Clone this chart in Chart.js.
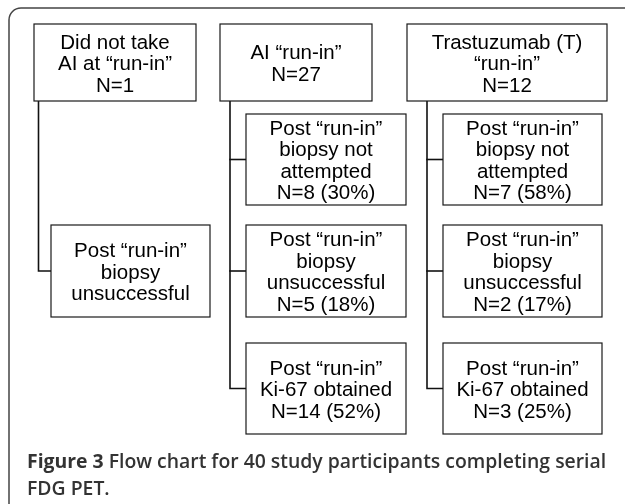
<!DOCTYPE html>
<html>
<head>
<meta charset="utf-8">
<script src="https://cdn.jsdelivr.net/npm/chart.js@4"></script>
<style>
  html, body { margin: 0; background: #fff; }
  #wrap { width: 625px; height: 504px; position: relative; }
</style>
</head>
<body>
<div id="wrap"><canvas id="flow"></canvas></div>
<script>
// Datos del diagrama: brazos del "run-in" y resultado de la biopsia posterior.
var armLines = [
    ["Did not take", "AI at \u201crun-in\u201d"],
    ["AI \u201crun-in\u201d"],
    ["Trastuzumab (T)", "\u201crun-in\u201d"]
];
var armN = [1, 27, 12];

var outcomeLines = [
    ["Post \u201crun-in\u201d", "biopsy not", "attempted"],
    ["Post \u201crun-in\u201d", "biopsy", "unsuccessful"],
    ["Post \u201crun-in\u201d", "Ki-67 obtained"]
];
// Por brazo: qué cajas de resultado aparecen, recuento y porcentaje (null = sin cifra).
var outcomeShown = [[false, true, false], [true, true, true], [true, true, true]];
var outcomeN = [[null, null, null], [8, 5, 14], [7, 2, 3]];
var outcomePct = [[null, null, null], [30, 18, 52], [58, 17, 25]];

var captionBold = "Figure 3";
var captionLines = [" Flow chart for 40 study participants completing serial", "FDG PET."];

// Maquetación en unidades de las escalas (0..625 x 0..504).
var HEAD_Y = [24, 101];
var HEAD_X = [[34, 196], [220, 372], [407, 607]];
var CHILD_X = [[51, 210], [246, 406], [443, 602]];
var ROWS_Y = [[114, 205], [225, 317], [343, 434]];
var SPINE_X = [38.5, 230, 427];

var BOX_FONT = "20.5px 'Liberation Sans', Arial, sans-serif";
var LINE_H = 21.5;
var CAP_FONT_PX = 19.4;

function mid(r) { return (r[0] + r[1]) / 2; }

// Conectores: una línea vertical por brazo y un tramo horizontal a cada caja hija.
var datasets = [];
armLines.forEach(function (_, a) {
    var rows = [];
    outcomeShown[a].forEach(function (s, r) { if (s) rows.push(r); });
    if (!rows.length) return;
    var last = rows[rows.length - 1];
    datasets.push({
        data: [
            { x: SPINE_X[a], y: HEAD_Y[1] },
            { x: SPINE_X[a], y: mid(ROWS_Y[last]) },
            { x: CHILD_X[a][0], y: mid(ROWS_Y[last]) }
        ]
    });
    rows.slice(0, -1).forEach(function (r) {
        datasets.push({
            data: [
                { x: SPINE_X[a], y: mid(ROWS_Y[r]) },
                { x: CHILD_X[a][0], y: mid(ROWS_Y[r]) }
            ]
        });
    });
});
datasets.forEach(function (d) {
    d.showLine = true;
    d.borderColor = "#111";
    d.borderWidth = 1.6;
    d.pointRadius = 0;
    d.tension = 0;
    d.borderCapStyle = "square";
    d.borderJoinStyle = "miter";
});

function boxText(lines, n, pct) {
    var out = lines.slice();
    if (n !== null && n !== undefined) out.push("N=" + n + (pct !== null && pct !== undefined ? " (" + pct + "%)" : ""));
    return out;
}

function drawBox(ctx, sx, sy, xr, yr, lines) {
    var x0 = sx.getPixelForValue(xr[0]), x1 = sx.getPixelForValue(xr[1]);
    var y0 = sy.getPixelForValue(yr[0]), y1 = sy.getPixelForValue(yr[1]);
    ctx.fillStyle = "#fff";
    ctx.fillRect(x0, y0, x1 - x0, y1 - y0);
    ctx.strokeStyle = "#1a1a1a";
    ctx.lineWidth = 1.2;
    ctx.strokeRect(x0, y0, x1 - x0, y1 - y0);
    ctx.fillStyle = "#000";
    ctx.font = BOX_FONT;
    ctx.textAlign = "center";
    ctx.textBaseline = "middle";
    var cx = (x0 + x1) / 2, cy = (y0 + y1) / 2;
    var top = cy - (lines.length - 1) * LINE_H / 2;
    lines.forEach(function (t, i) { ctx.fillText(t, cx, top + i * LINE_H + 2); });
}

var flowPlugin = {
    id: "flowBoxes",
    beforeDatasetsDraw: function (chart) {
        var ctx = chart.ctx, sx = chart.scales.x, sy = chart.scales.y;
        // marco redondeado que sale por la derecha y por abajo
        ctx.save();
        ctx.strokeStyle = "#444";
        ctx.lineWidth = 1.5;
        ctx.beginPath();
        ctx.roundRect(sx.getPixelForValue(9), sy.getPixelForValue(8), 640, 520, 12);
        ctx.stroke();
        ctx.restore();
    },
    afterDatasetsDraw: function (chart) {
        var ctx = chart.ctx, sx = chart.scales.x, sy = chart.scales.y;
        ctx.save();
        armLines.forEach(function (lines, a) {
            drawBox(ctx, sx, sy, HEAD_X[a], HEAD_Y, boxText(lines, armN[a], null));
            outcomeLines.forEach(function (ol, r) {
                if (!outcomeShown[a][r]) return;
                drawBox(ctx, sx, sy, CHILD_X[a], ROWS_Y[r], boxText(ol, outcomeN[a][r], outcomePct[a][r]));
            });
        });
        // pie de figura
        ctx.fillStyle = "#333";
        ctx.textAlign = "left";
        ctx.textBaseline = "alphabetic";
        var x = sx.getPixelForValue(27), y1 = sy.getPixelForValue(468), y2 = sy.getPixelForValue(495);
        ctx.font = "bold " + CAP_FONT_PX + "px 'Open Sans', sans-serif";
        ctx.fillText(captionBold, x, y1);
        var w = ctx.measureText(captionBold).width;
        ctx.font = "600 " + CAP_FONT_PX + "px 'Open Sans', sans-serif";
        ctx.fillText(captionLines[0], x + w, y1);
        ctx.fillText(captionLines[1], x, y2);
        ctx.restore();
    }
};

new Chart(document.getElementById("flow"), {
    type: "scatter",
    data: { datasets: datasets },
    options: {
        responsive: true,
        maintainAspectRatio: false,
        animation: false,
        layout: { padding: 0 },
        plugins: { legend: { display: false }, tooltip: { enabled: false } },
        scales: {
            x: { type: "linear", min: 0, max: 625, display: false },
            y: { type: "linear", min: 0, max: 504, reverse: true, display: false }
        }
    },
    plugins: [flowPlugin]
});
</script>
</body>
</html>
